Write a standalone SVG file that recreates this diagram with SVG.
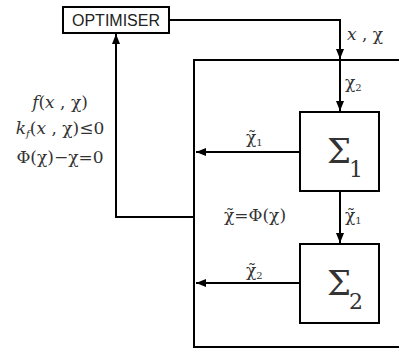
<svg xmlns="http://www.w3.org/2000/svg" width="399" height="349" viewBox="0 0 399 349">
<style>
.ln{fill:none;stroke:#000;stroke-width:2}
.bx{fill:#fff;stroke:#000;stroke-width:2}
.m{font-family:"DejaVu Serif","Liberation Serif",serif;font-size:17px;fill:#333}
.i{font-style:italic}
.sub{font-size:10px}
.sg{font-family:"DejaVu Serif","Liberation Serif",serif;fill:#333}
</style>
<defs>
<marker id="ah" viewBox="0 0 10 8" refX="10" refY="4" markerWidth="10" markerHeight="8" markerUnits="userSpaceOnUse" orient="auto">
<path d="M0,0L10,4L0,8z" fill="#000"/>
</marker>
</defs>
<g id="connectors">
<polyline class="ln" points="169,20 340,20 340,59" marker-end="url(#ah)"/>
<line class="ln" x1="340" y1="60" x2="340" y2="111" marker-end="url(#ah)"/>
<line class="ln" x1="300" y1="152" x2="196" y2="152" marker-end="url(#ah)"/>
<line class="ln" x1="340" y1="191" x2="340" y2="243" marker-end="url(#ah)"/>
<line class="ln" x1="300" y1="283" x2="196" y2="283" marker-end="url(#ah)"/>
<polyline class="ln" points="194,217 116,217 116,34" marker-end="url(#ah)"/>
</g>
<g id="frame">
<polyline class="ln" points="399,60 194,60 194,347 399,347"/>
</g>
<g id="optimiser">
<rect class="bx" x="63" y="7" width="106" height="26"/>
<text x="116" y="26" text-anchor="middle" font-family="Liberation Sans,Arial,sans-serif" font-size="16" fill="#222">OPTIMISER</text>
</g>
<g id="sigma1">
<rect class="bx" x="300" y="112" width="79" height="79"/>
<text class="sg" x="327" y="163" font-size="34">Σ</text>
<text class="sg" x="349" y="177" font-size="22">1</text>
</g>
<g id="sigma2">
<rect class="bx" x="300" y="244" width="79" height="79"/>
<text class="sg" x="327" y="295" font-size="34">Σ</text>
<text class="sg" x="349" y="309" font-size="22">2</text>
</g>
<g id="labels">
<text class="m" x="347" y="40"><tspan class="i">x</tspan> , χ</text>
<text class="m" x="345" y="88">χ<tspan class="sub" dy="3">2</tspan></text>
<text class="m" x="246" y="143">χ̃<tspan class="sub" dy="3">1</tspan></text>
<text class="m" x="224" y="221">χ̃=Φ(χ)</text>
<text class="m" x="345" y="221">χ̃<tspan class="sub" dy="3">1</tspan></text>
<text class="m" x="246" y="276">χ̃<tspan class="sub" dy="3">2</tspan></text>
<text class="m" x="60" y="108" text-anchor="middle"><tspan class="i">f</tspan>(<tspan class="i">x</tspan> , χ)</text>
<text class="m" x="60" y="134" text-anchor="middle"><tspan class="i">k</tspan><tspan class="sub i" dy="3">f</tspan><tspan dy="-3">(</tspan><tspan class="i">x</tspan> , χ)≤0</text>
<text class="m" x="60" y="163" text-anchor="middle">Φ(χ)−χ=0</text>
</g>
</svg>
